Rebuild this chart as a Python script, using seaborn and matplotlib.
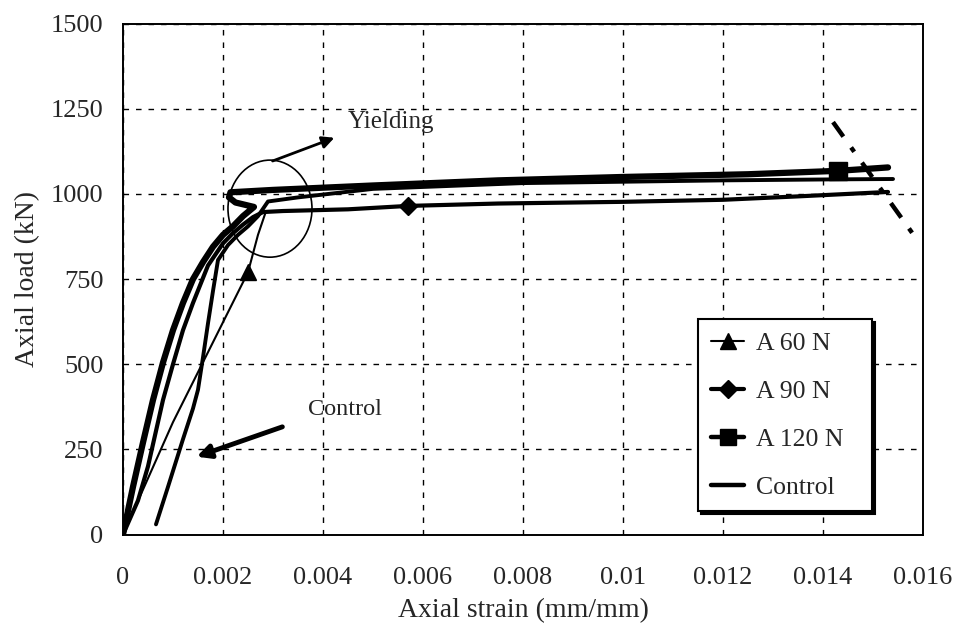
import numpy as np
import pandas as pd
import matplotlib
matplotlib.use("Agg")
import matplotlib.pyplot as plt
from matplotlib.patches import Ellipse
from matplotlib.lines import Line2D
import seaborn as sns

# ---- data (strain mm/mm, load kN) ----
a120_strain = [0, 0.0002, 0.0004, 0.0006, 0.0008, 0.0010, 0.0012, 0.0014, 0.0016, 0.0018,
               0.0020, 0.0022, 0.0024, 0.00262,
               0.00225, 0.00212, 0.00215, 0.0030, 0.0050, 0.0075, 0.0100, 0.0125, 0.0143, 0.0153]
a120_load = [0, 140, 270, 395, 505, 600, 680, 750, 800, 845,
             880, 905, 935, 962,
             975, 990, 1005, 1012, 1025, 1040, 1050, 1058, 1068, 1078]

a90_strain = [0, 0.0003, 0.0005, 0.0008, 0.0010, 0.0012, 0.0014, 0.0017, 0.0020, 0.0022,
              0.0024, 0.0026, 0.0028, 0.0032,
              0.0045, 0.0057, 0.0075, 0.0100, 0.0120, 0.0135, 0.0153]
a90_load = [0, 100, 200, 395, 500, 600, 680, 790, 855, 885,
            910, 932, 947, 950,
            955, 965, 972, 977, 983, 993, 1006]

a60_strain = [0, 0.0010, 0.0025, 0.0027, 0.00285]
a60_load = [0, 330, 770, 880, 945]

ctrl_strain = [0.00066, 0.0009, 0.0012, 0.0014, 0.0015, 0.0016, 0.0017, 0.0018, 0.0019,
               0.0021, 0.0023, 0.0025, 0.0027, 0.0029,
               0.0035, 0.0050, 0.0080, 0.0120, 0.0143, 0.0154]
ctrl_load = [30, 140, 280, 370, 425, 520, 620, 715, 806,
             850, 880, 905, 935, 978,
             990, 1015, 1032, 1040, 1043, 1044]

dashdot_strain = [0.0142, 0.01584]
dashdot_load = [1211, 874]

x_ticks = [0, 0.002, 0.004, 0.006, 0.008, 0.01, 0.012, 0.014, 0.016]
x_tick_labels = ["0", "0.002", "0.004", "0.006", "0.008", "0.01", "0.012", "0.014", "0.016"]
y_ticks = [0, 250, 500, 750, 1000, 1250, 1500]

sns.set_theme(style="white")
plt.rcParams['font.family'] = ['Liberation Serif', 'DejaVu Serif']
plt.rcParams['font.size'] = 19

fig = plt.figure(figsize=(9.57, 6.27), dpi=100)
ax = fig.add_axes([0.1285, 0.1474, 0.836, 0.8148])

def df(xs, ys):
    return pd.DataFrame({"x": xs, "y": ys})

sns.lineplot(data=df(a120_strain, a120_load), x="x", y="y", sort=False, estimator=None,
             color="black", lw=4.5, ax=ax)
sns.lineplot(data=df(a90_strain, a90_load), x="x", y="y", sort=False, estimator=None,
             color="black", lw=3.0, ax=ax)
sns.lineplot(data=df(a60_strain, a60_load), x="x", y="y", sort=False, estimator=None,
             color="black", lw=1.5, ax=ax)
sns.lineplot(data=df(ctrl_strain, ctrl_load), x="x", y="y", sort=False, estimator=None,
             color="black", lw=2.8, ax=ax)
for ln in ax.lines:
    ln.set_solid_joinstyle("round")
    ln.set_solid_capstyle("round")
ax.plot(dashdot_strain, dashdot_load, color="black", lw=3.2, dashes=(4, 3, 1.2, 3))

# markers
ax.plot([a60_strain[2]], [a60_load[2]], marker="^", ms=11, color="black", ls="none")
ax.plot([a90_strain[15]], [a90_load[15]], marker="D", ms=9, color="black", ls="none")
ax.plot([a120_strain[22]], [a120_load[22]], marker="s", ms=12.5, color="black", ls="none")

# ellipse around yielding
ax.add_patch(Ellipse((0.00294, 957), 0.00168, 285, fill=False, ec="black", lw=1.2))

# annotations
ax.annotate("", xy=(0.00428, 1168), xytext=(0.00294, 1094),
            arrowprops=dict(arrowstyle="-|>", color="black", lw=2, mutation_scale=18))
ax.text(0.0045, 1211, "Yielding", fontsize=18, va="center", ha="left")
ax.annotate("", xy=(0.00142, 226), xytext=(0.00324, 319),
            arrowprops=dict(arrowstyle="-|>", color="black", lw=3.5, mutation_scale=20))
ax.text(0.0037, 366, "Control", fontsize=17.5, va="center", ha="left")

ax.set_xlim(0, 0.016)
ax.set_ylim(0, 1500)
ax.set_xticks(x_ticks)
ax.set_xticklabels(x_tick_labels)
ax.set_yticks(y_ticks)
ax.set_xlabel("Axial strain (mm/mm)", fontsize=20, labelpad=7)
ax.set_ylabel("Axial load (kN)", fontsize=20, labelpad=8)
ax.tick_params(axis="both", labelsize=19, direction="inout", length=10, width=1.2, color="black")
ax.tick_params(axis="y", pad=9)
ax.tick_params(axis="x", direction="out", length=6, pad=17)
ax.grid(True, color="black", ls=(0, (4, 5)), lw=1)
for s in ax.spines.values():
    s.set_color("black")
    s.set_linewidth(1.4)

handles = [
    Line2D([0], [0], color="black", lw=1.5, marker="^", ms=11),
    Line2D([0], [0], color="black", lw=3.0, marker="D", ms=9),
    Line2D([0], [0], color="black", lw=3.2, marker="s", ms=12),
    Line2D([0], [0], color="black", lw=3.2),
]
leg = ax.legend(handles, ["A 60 N", "A 90 N", "A 120 N", "Control"],
                loc="upper left", bbox_to_anchor=(0.719, 0.048, 0.217, 0.374),
                mode="expand", borderaxespad=0, fontsize=18.5, handlelength=1.3,
                handletextpad=0.45, labelspacing=0.97, borderpad=0.5, frameon=True,
                fancybox=False, shadow={'color': 'black', 'alpha': 1}, framealpha=1)
leg.get_frame().set_edgecolor("black")
leg.get_frame().set_linewidth(1.5)

fig.savefig("out.png", dpi=100, facecolor="white")
